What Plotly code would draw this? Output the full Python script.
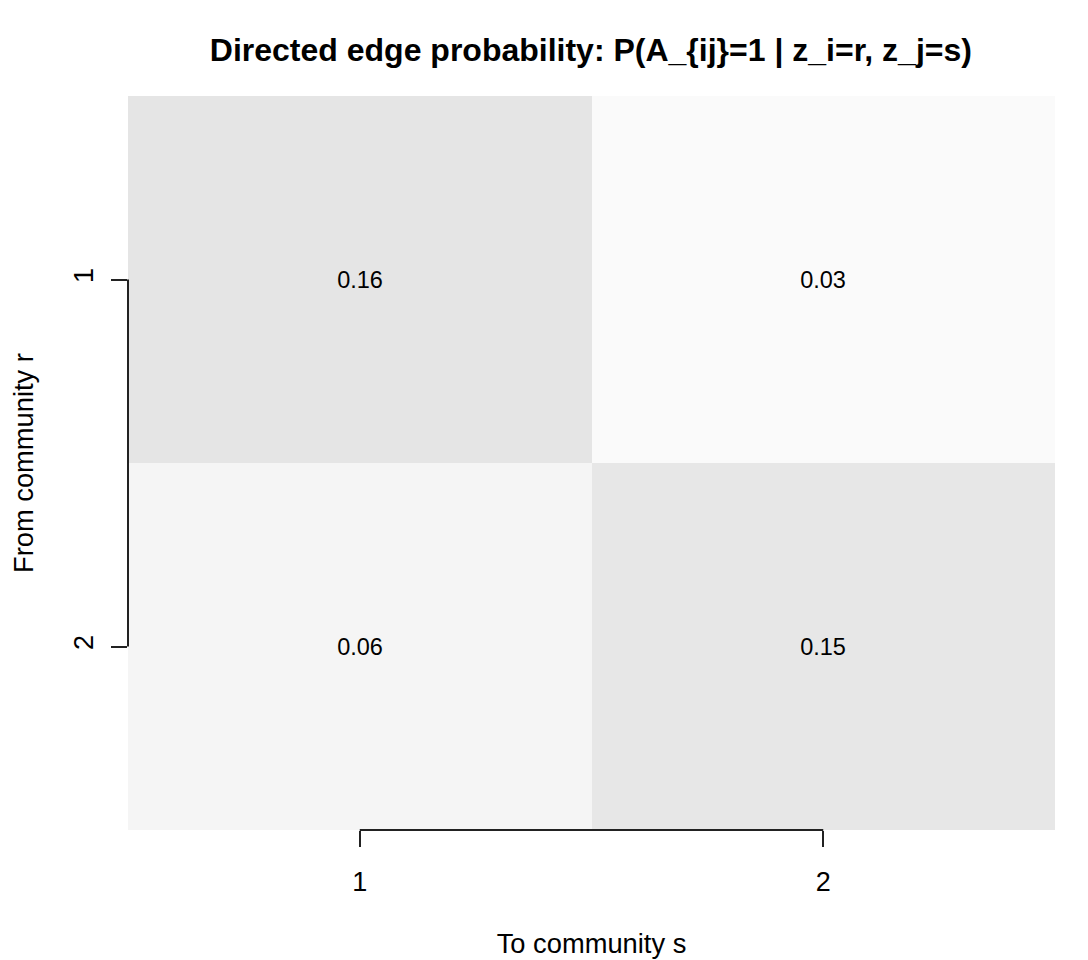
import plotly.graph_objects as go

# block probabilities, rows = from community r, cols = to community s
communities = [1, 2]
tick_labels = ["1", "2"]
probs = [
    [0.16, 0.03],
    [0.06, 0.15],
]

fnt = "Liberation Sans, Arial, Helvetica, sans-serif"

fig = go.Figure(go.Heatmap(
    z=probs,
    x=communities,
    y=communities,
    colorscale=[[0, "rgb(255,255,255)"], [1, "rgb(95,95,95)"]],
    zmin=0, zmax=1,
    showscale=False,
    texttemplate="%{z:.2f}",
    textfont=dict(size=23.5, color="black", family=fnt),
    hoverinfo="skip",
))

axis_common = dict(
    tickmode="array",
    tickvals=communities,
    ticktext=tick_labels,
    ticks="outside",
    ticklen=16,
    tickwidth=2,
    tickcolor="#222",
    showline=False,
    showgrid=False,
    zeroline=False,
    automargin=False,
    tickfont=dict(size=27, color="black", family=fnt),
    range=[0.5, 2.5],
)

fig.update_xaxes(**axis_common, ticklabelstandoff=12,
                 title=dict(text="To community s", standoff=37,
                            font=dict(size=27.3, color="black", family=fnt)))
fig.update_yaxes(**axis_common, autorange=False, tickangle=-90,
                 ticklabelstandoff=7)
fig.update_yaxes(range=[2.5, 0.5])

# y axis title as annotation so it can sit further out
fig.add_annotation(text="From community r", textangle=-90,
                   xref="paper", yref="paper", x=0, y=0.5,
                   xanchor="center", yanchor="middle", xshift=-105,
                   showarrow=False, borderpad=0,
                   font=dict(size=27.3, color="black", family=fnt))

# R-style axis lines spanning only the tick range
fig.add_shape(type="line", xref="x", yref="paper", x0=1, x1=2, y0=0, y1=0,
              line=dict(color="#222", width=2), layer="above")
fig.add_shape(type="line", xref="paper", yref="y", x0=0, x1=0, y0=1, y1=2,
              line=dict(color="#222", width=2), layer="above")

# page body has an 8px margin, so the figure is 8px smaller on each side
fig.update_layout(
    width=1080, height=952,
    margin=dict(l=120, r=33, t=88, b=130, autoexpand=False),
    paper_bgcolor="white",
    plot_bgcolor="white",
    title=dict(text="<b>Directed edge probability: P(A_{ij}=1 | z_i=r, z_j=s)</b>",
               x=0.5397, xanchor="center", y=0.9565, yanchor="middle",
               font=dict(size=32, color="black", family=fnt)),
    font=dict(family=fnt),
)

fig.write_html("out.html")
